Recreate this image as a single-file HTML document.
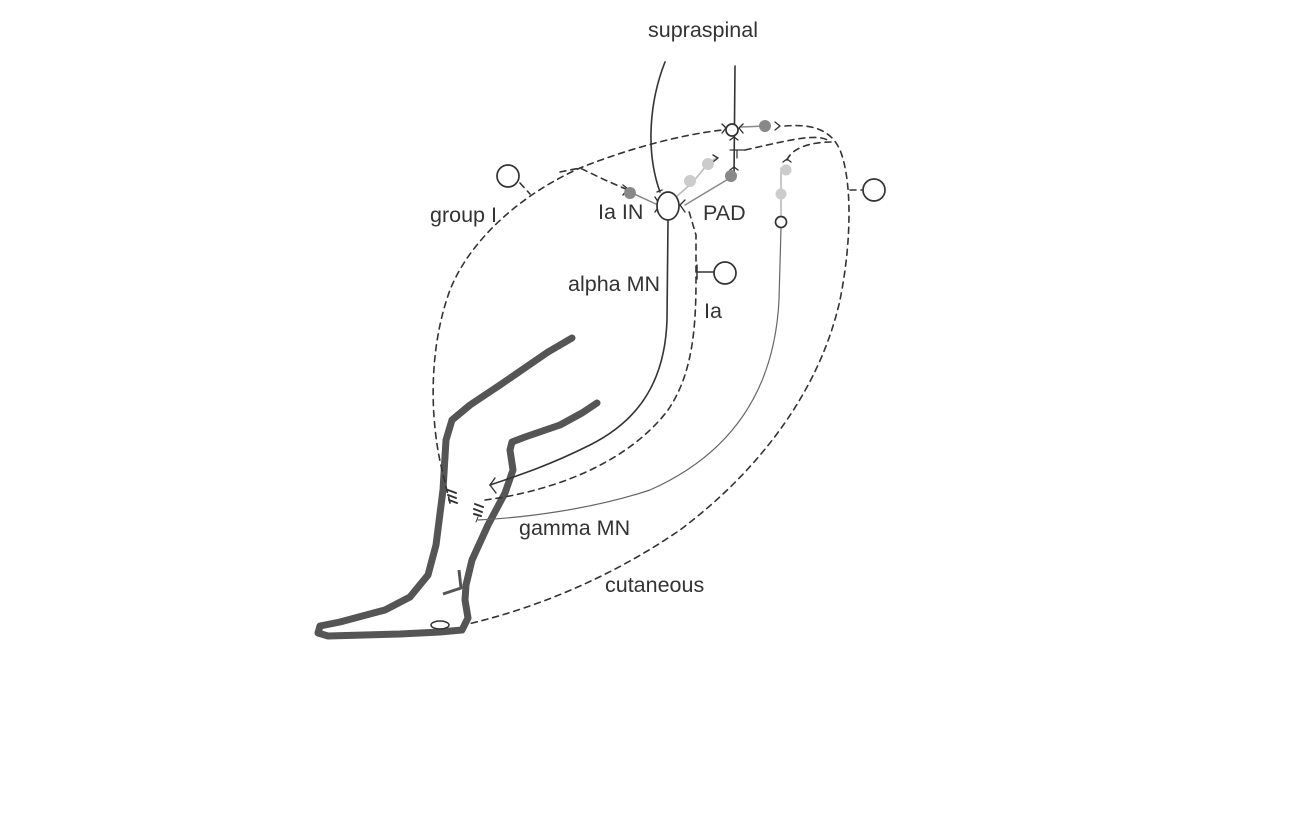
<!DOCTYPE html>
<html><head><meta charset="utf-8"><style>
html,body{margin:0;padding:0;background:#fff;}
svg{display:block}
text{font-family:"Liberation Sans",sans-serif;font-size:21.5px;fill:#333;}
</style></head><body>
<svg width="1300" height="824" viewBox="0 0 1300 824" xmlns="http://www.w3.org/2000/svg">
<g fill="none" stroke-linecap="round" stroke-linejoin="round">
<path d="M572,338 L548,352 L500,385 L470,405 L452,420 L446,440 L443,490 L436,545 L428,575 L410,597 L385,610 L340,622 L320,626 L318,633 L328,636 L400,634 L440,632 L462,630 L468,618 L465,600 L466,585 L472,560 L488,525 L505,493 L513,470 L510,450 L512,442 L525,437 L560,425 L582,413 L597,403" stroke="#555" stroke-width="7"/>
<path d="M459,570 L461,588 L443,594" stroke="#555" stroke-width="3" stroke-linecap="butt"/>
<ellipse cx="440" cy="625" rx="9" ry="4" stroke="#333" stroke-width="1.5"/>
<path d="M665,62 C650,100 645,150 660,192" stroke="#333" stroke-width="1.6"/>
<path d="M735,66 L734,178" stroke="#333" stroke-width="1.6"/>
<path d="M668,220 L667,320 C665,380 640,420 590,445 C550,465 520,475 490,485" stroke="#333" stroke-width="1.6"/>
<path d="M495,478 L490,485 L496,493" stroke="#333" stroke-width="1.4"/>
<path d="M781,228 L779,300 C775,380 740,450 650,490 C590,510 520,518 478,520" stroke="#666" stroke-width="1.2"/>
<g stroke="#333" stroke-width="1.6" stroke-dasharray="6,5">
<path d="M450,503 L442,470 C430,420 428,350 450,290 C470,240 520,195 580,168 C630,148 680,135 722,130"/>
<path d="M560,172 L580,168 L605,180 L628,190"/>
<path d="M520,183 L530,194"/>
<path d="M485,500 C560,490 630,460 668,410 C692,375 696,330 696,280 L696,235 L688,208"/>
<path d="M785,126 C810,124 830,128 840,150 C852,180 852,240 840,300 C820,390 760,470 680,530 C600,585 520,612 468,624"/>
<path d="M745,150 C790,140 820,132 830,142"/>
<path d="M787,160 C792,148 810,142 832,142"/>
<path d="M850,190 L862,190"/>
</g>
<path d="M697,265 L697,279 M697,272 L714,272" stroke="#333" stroke-width="1.5"/>
<path d="M632,193 L658,205" stroke="#888" stroke-width="1.5"/>
<path d="M676,197 L692,183 L707,165 L716,158" stroke="#bbb" stroke-width="1.6"/>
<path d="M685,205 L730,178" stroke="#888" stroke-width="1.5"/>
<path d="M741,127 L765,126" stroke="#888" stroke-width="1.5"/>
<path d="M781,168 L781,215" stroke="#bbb" stroke-width="1.6"/>
<path d="M623,185 L628,189 L623,195 M655,197 L660,205 L655,212 M722,124 L726,128 L722,133 M743,124 L739,128 L743,133 M775,122 L780,126 L775,130 M713,155 L718,158 L713,162 M730,170 L734,167 L738,170 M730,140 L734,137 L738,140 M783,162 L787,159 L791,162 M685,200 L680,205 L685,212 M662,190 L657,192" stroke="#333" stroke-width="1.4"/>
<path d="M737,150 L737,158 M730,150 L745,150" stroke="#333" stroke-width="1.2"/>
<path d="M448,490 L456,493 M448,495 L456,498 M449,500 L457,503 M475,504 L483,507 M474,509 L482,512 M474,514 L481,516" stroke="#333" stroke-width="2"/>
<path d="M478,517 L476,522" stroke="#333" stroke-width="1"/>
</g>
<g stroke="#333" stroke-width="1.7" fill="#fff">
<ellipse cx="668" cy="206" rx="11" ry="14"/>
<circle cx="508" cy="176" r="11"/>
<circle cx="725" cy="273" r="11"/>
<circle cx="874" cy="190" r="11"/>
<circle cx="732" cy="130" r="6"/>
<circle cx="781" cy="222" r="5.5"/>
</g>
<g stroke="none">
<circle cx="630" cy="193" r="6" fill="#888"/>
<circle cx="765" cy="126" r="6" fill="#888"/>
<circle cx="731" cy="176" r="6" fill="#888"/>
<circle cx="690" cy="181" r="6" fill="#ccc"/>
<circle cx="708" cy="164" r="6" fill="#ccc"/>
<circle cx="781" cy="194" r="5.5" fill="#ccc"/>
<circle cx="786" cy="170" r="5.5" fill="#ccc"/>
</g>
<text x="703" y="37" text-anchor="middle">supraspinal</text>
<text x="430" y="222">group I</text>
<text x="598" y="219">Ia IN</text>
<text x="703" y="220">PAD</text>
<text x="568" y="291">alpha MN</text>
<text x="704" y="318">Ia</text>
<text x="519" y="535">gamma MN</text>
<text x="605" y="592">cutaneous</text>
</svg>
</body></html>
